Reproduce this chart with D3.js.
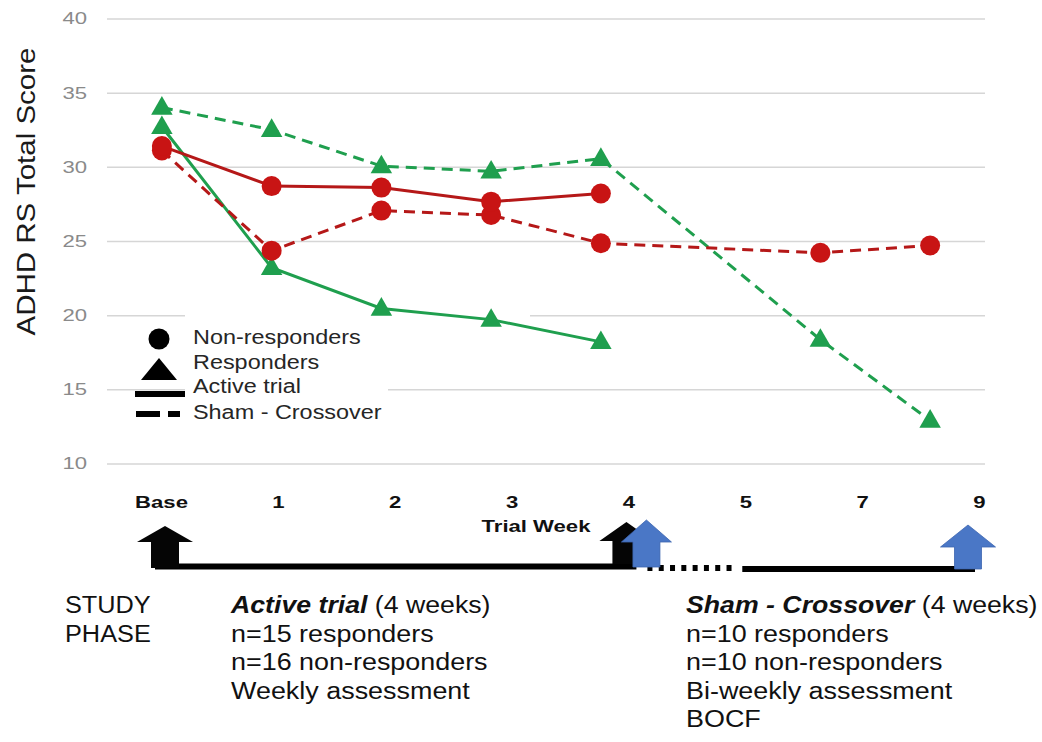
<!DOCTYPE html>
<html>
<head>
<meta charset="utf-8">
<script src="https://cdn.jsdelivr.net/npm/d3@7"></script>
<style>
  html, body { margin: 0; padding: 0; background: #fff; }
  svg { display: block; font-family: "Liberation Sans", Arial, Helvetica, sans-serif; }
</style>
</head>
<body>
<svg id="chart" width="1042" height="742"></svg>
<script>
// ---------------- data ----------------
const weeks = ["Base", "1", "2", "3", "4", "5", "7", "9"];
const yTicks = [10, 15, 20, 25, 30, 35, 40];
const activeNonResponders = [31.4, 28.7, 28.6, 27.65, 28.2, null, null, null];
const activeResponders    = [32.7, 23.2, 20.45, 19.7, 18.2, null, null, null];
const shamNonResponders   = [31.1, 24.35, 27.05, 26.75, 24.85, null, 24.2, 24.7];
const shamResponders      = [34.0, 32.5, 30.05, 29.7, 30.55, null, 18.35, 12.9];
const legendLabels = ["Non-responders", "Responders", "Active trial", "Sham - Crossover"];
const yTitle = "ADHD RS Total Score";
const xTitle = "Trial Week";
const studyPhase = ["STUDY", "PHASE"];
const activeBlock = { head: "Active trial", tail: " (4 weeks)", lines: ["n=15 responders", "n=16 non-responders", "Weekly assessment"] };
const shamBlock = { head: "Sham - Crossover", tail: " (4 weeks)", lines: ["n=10 responders", "n=10 non-responders", "Bi-weekly assessment", "BOCF"] };

// ---------------- setup ----------------
const svg = d3.select("#chart");
const RED = "#c81414", RED_LINE = "#b51818", GREEN = "#1f9f4e";
const plotL = 107, plotR = 985, plotT = 18.5, plotB = 463.5;

const x = d3.scalePoint().domain(weeks).range([plotL, plotR]).padding(0.5);
const y = d3.scaleLinear().domain([10, 40]).range([plotB, plotT]);
const tl = d3.scalePoint().domain(weeks).range([161, 979]); // timeline annotation row

function stretch(sel, k) {
  sel.each(function () {
    const w = this.getComputedTextLength();
    this.setAttribute("textLength", w * k);
    this.setAttribute("lengthAdjust", "spacingAndGlyphs");
  });
}

// ---------------- gridlines + y axis ----------------
const gy = svg.append("g").attr("transform", `translate(${plotL},0)`)
  .call(d3.axisLeft(y).tickValues(yTicks).tickSize(-(plotR - plotL)).tickPadding(20));
gy.select(".domain").remove();
gy.selectAll(".tick line").attr("stroke", "#d6d6d6").attr("stroke-width", 1.5);
gy.selectAll(".tick text").attr("fill", "#8a8a8a").attr("font-size", 17)
  .attr("font-family", "Liberation Sans, Arial, sans-serif").call(stretch, 1.3);

// y title
svg.append("text")
  .attr("transform", `translate(35,${(43 + 340) / 2}) rotate(-90)`)
  .attr("text-anchor", "middle").attr("font-size", 25).attr("fill", "#1a1a1a")
  .text(yTitle).call(stretch, 1.18);

// ---------------- legend background ----------------
svg.append("rect").attr("x", 185).attr("y", 312).attr("width", 203).attr("height", 120).attr("fill", "#fff");
svg.append("rect").attr("x", 385).attr("y", 312).attr("width", 145).attr("height", 10).attr("fill", "#fff");

// ---------------- series ----------------
const tri = d3.symbol().type(d3.symbolTriangle).size(200);
function pts(arr) { return weeks.map((w, i) => ({ w, v: arr[i] })).filter(d => d.v != null); }
const lineGen = d3.line().x(d => x(d.w)).y(d => y(d.v));

const series = [
  { data: shamResponders, color: GREEN, dash: "11,7", shape: "tri" },
  { data: activeResponders, color: GREEN, dash: null, shape: "tri" },
  { data: shamNonResponders, color: RED_LINE, dash: "11,7", shape: "circ", fill: RED },
  { data: activeNonResponders, color: RED_LINE, dash: null, shape: "circ", fill: RED },
];
series.forEach(s => {
  svg.append("path").datum(pts(s.data)).attr("d", lineGen)
    .attr("fill", "none").attr("stroke", s.color).attr("stroke-width", 3)
    .attr("stroke-dasharray", s.dash);
});
series.forEach(s => {
  const g = svg.append("g");
  if (s.shape === "tri") {
    g.selectAll("path").data(pts(s.data)).join("path")
      .attr("d", tri).attr("transform", d => `translate(${x(d.w)},${y(d.v) + 1})`)
      .attr("fill", s.color);
  } else {
    g.selectAll("circle").data(pts(s.data)).join("circle")
      .attr("cx", d => x(d.w)).attr("cy", d => y(d.v)).attr("r", 10).attr("fill", s.fill);
  }
});

// ---------------- legend ----------------
const lg = svg.append("g");
lg.append("circle").attr("cx", 159).attr("cy", 339).attr("r", 10.5).attr("fill", "#000");
lg.append("path").attr("d", "M159,358 L177,380 L141,380 Z").attr("fill", "#000");
lg.append("line").attr("x1", 135).attr("x2", 185).attr("y1", 394).attr("y2", 394).attr("stroke", "#000").attr("stroke-width", 6);
lg.append("line").attr("x1", 136).attr("x2", 180).attr("y1", 414).attr("y2", 414).attr("stroke", "#000").attr("stroke-width", 6).attr("stroke-dasharray", "24,8");
lg.selectAll("text").data(legendLabels).join("text")
  .attr("x", 193).attr("y", (d, i) => [344, 368.5, 393, 419][i])
  .attr("font-size", 20).attr("fill", "#262626").text(d => d).call(stretch, 1.17);

// ---------------- timeline annotation ----------------
const gx = svg.append("g").attr("transform", "translate(0,493)")
  .call(d3.axisBottom(tl).tickSize(0).tickPadding(0));
gx.select(".domain").remove();
gx.selectAll(".tick text").attr("dy", "0.9em").attr("font-size", 17).attr("font-weight", "bold")
  .attr("fill", "#111").attr("font-family", "Liberation Sans, Arial, sans-serif").call(stretch, 1.3);

svg.append("text").attr("x", 536).attr("y", 532).attr("text-anchor", "middle")
  .attr("font-size", 17).attr("font-weight", "bold").attr("fill", "#111").text(xTitle).call(stretch, 1.3);

// timeline bar
const tlY = 566.5;
svg.append("line").attr("x1", tl("Base") - 6).attr("x2", tl("4") + 8).attr("y1", tlY).attr("y2", tlY)
  .attr("stroke", "#000").attr("stroke-width", 6);
svg.append("line").attr("x1", tl("4") + 19).attr("x2", tl("5") - 9).attr("y1", tlY + 1.5).attr("y2", tlY + 1.5)
  .attr("stroke", "#000").attr("stroke-width", 6).attr("stroke-dasharray", "5,6.3");
svg.append("line").attr("x1", tl("5") - 3).attr("x2", tl("9") - 4).attr("y1", tlY + 2.5).attr("y2", tlY + 2.5)
  .attr("stroke", "#000").attr("stroke-width", 6);

function arrow(cx, top, headBottom, bottom, headW, shaftW) {
  const p = d3.path();
  p.moveTo(cx, top);
  p.lineTo(cx + headW / 2, headBottom);
  p.lineTo(cx + shaftW / 2, headBottom);
  p.lineTo(cx + shaftW / 2, bottom);
  p.lineTo(cx - shaftW / 2, bottom);
  p.lineTo(cx - shaftW / 2, headBottom);
  p.lineTo(cx - headW / 2, headBottom);
  p.closePath();
  return p.toString();
}
const BLUE = "#4a77c6";
svg.append("path").attr("d", arrow(tl("Base") + 4, 526, 542, 568, 56, 28)).attr("fill", "#050505");
svg.append("path").attr("d", arrow(tl("4") - 2, 522, 541, 564, 54, 28)).attr("fill", "#050505");
svg.append("path").attr("d", arrow(tl("4") + 18, 520, 542, 567, 50, 27)).attr("fill", BLUE).attr("stroke", "#3c65b0").attr("stroke-width", 0.8);
svg.append("path").attr("d", arrow(tl("9") - 11, 525, 547, 569, 55, 27)).attr("fill", BLUE).attr("stroke", "#3c65b0").attr("stroke-width", 0.8);

// ---------------- study phase text ----------------
const TXT = "#111";
svg.selectAll("text.sp").data(studyPhase).join("text").attr("class", "sp")
  .attr("x", 65).attr("y", (d, i) => 613 + i * 29).attr("font-size", 23).attr("fill", TXT)
  .text(d => d).call(stretch, 1.1);

function block(b, x0, lineGap) {
  const t = svg.append("text").attr("x", x0).attr("y", 613).attr("font-size", 23).attr("fill", TXT);
  t.append("tspan").attr("font-weight", "bold").attr("font-style", "italic").text(b.head);
  t.append("tspan").text(b.tail);
  t.call(stretch, 1.16);
  b.lines.forEach((ln, i) => {
    svg.append("text").attr("x", x0).attr("y", 613 + (i + 1) * lineGap)
      .attr("font-size", 23).attr("fill", TXT).text(ln).call(stretch, 1.17);
  });
}
block(activeBlock, 231, 28.5);
block(shamBlock, 686, 28.5);
</script>
</body>
</html>
